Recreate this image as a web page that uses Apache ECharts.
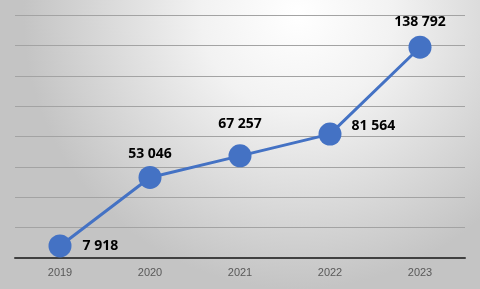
<!DOCTYPE html>
<html>
<head>
<meta charset="utf-8">
<script src="https://cdn.jsdelivr.net/npm/echarts@6/dist/echarts.min.js"></script>
<style>
html,body{margin:0;padding:0;}
#c{width:480px;height:289px;}
</style>
</head>
<body>
<div id="c"></div>
<script>
var categories = ['2019', '2020', '2021', '2022', '2023'];
var values = [7918, 53046, 67257, 81564, 138792];
var labelTexts = ['7 918', '53 046', '67 257', '81 564', '138 792'];
var labelPositions = ['right', 'top', 'top', 'right', 'top'];
var labelOffsets = [[0, 0], [0, 0], [0, -8], [0, -8], [0, -2]];
var labelDistances = [11, 5, 5, 10, 5];

var chart = echarts.init(document.getElementById('c'), null, {renderer: 'canvas'});
var data = values.map(function (v, i) {
  return {
    value: v,
    label: {
      show: true,
      position: labelPositions[i],
      offset: labelOffsets[i],
      distance: labelDistances[i],
      formatter: labelTexts[i]
    }
  };
});
chart.setOption({
  backgroundColor: {
    type: 'radial', x: 0.62, y: 0.05, r: 0.95,
    colorStops: [
      {offset: 0, color: '#ffffff'},
      {offset: 0.35, color: '#f2f2f2'},
      {offset: 1, color: '#c4c4c4'}
    ]
  },
  animation: false,
  grid: {left: 15, right: 15, top: 15, bottom: 31, containLabel: false},
  xAxis: {
    type: 'category',
    data: categories,
    boundaryGap: true,
    axisLine: {show: true, lineStyle: {color: '#404040', width: 2}},
    axisTick: {show: false},
    axisLabel: {color: '#595959', fontSize: 11, fontFamily: 'Liberation Sans', margin: 9}
  },
  yAxis: {
    type: 'value',
    min: 0, max: 160000, interval: 20000,
    axisLine: {show: false},
    axisTick: {show: false},
    axisLabel: {show: false},
    splitLine: {show: true, lineStyle: {color: '#a3a3a3', width: 1}}
  },
  series: [{
    type: 'line',
    data: data,
    symbol: 'circle',
    symbolSize: 23,
    itemStyle: {color: '#4472C4'},
    lineStyle: {color: '#4472C4', width: 3},
    label: {
      color: '#000000',
      fontSize: 14,
      fontWeight: 'bold',
      fontFamily: 'Open Sans'
    }
  }]
});
</script>
</body>
</html>
